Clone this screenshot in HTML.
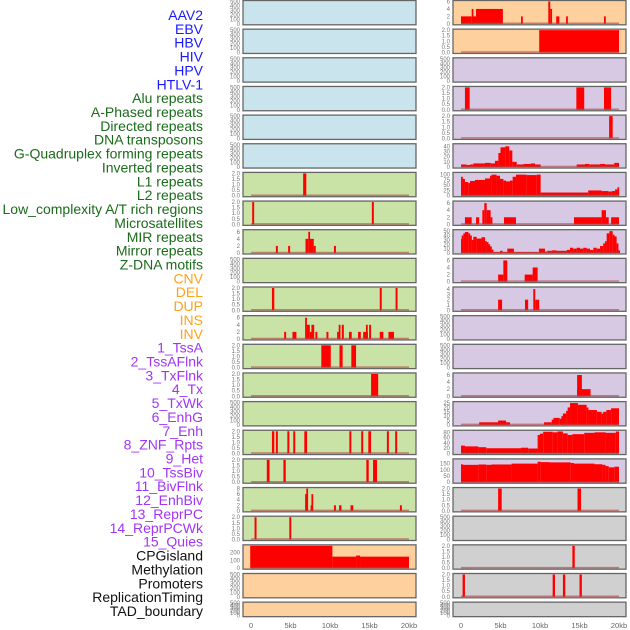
<!DOCTYPE html>
<html><head><meta charset="utf-8">
<style>
html,body{margin:0;padding:0;background:#fff;}
svg{display:block;font-family:"Liberation Sans",sans-serif;}
</style></head>
<body>
<svg id="chart" width="630" height="630" viewBox="0 0 630 630" xmlns="http://www.w3.org/2000/svg"></svg>
<script>
// ---- category labels ----
const labels = ["AAV2","EBV","HBV","HIV","HPV","HTLV-1","Alu repeats","A-Phased repeats","Directed repeats","DNA transposons","G-Quadruplex forming repeats","Inverted repeats","L1 repeats","L2 repeats","Low_complexity A/T rich regions","Microsatellites","MIR repeats","Mirror repeats","Z-DNA motifs","CNV","DEL","DUP","INS","INV","1_TssA","2_TssAFlnk","3_TxFlnk","4_Tx","5_TxWk","6_EnhG","7_Enh","8_ZNF_Rpts","9_Het","10_TssBiv","11_BivFlnk","12_EnhBiv","13_ReprPC","14_ReprPCWk","15_Quies","CPGisland","Methylation","Promoters","ReplicationTiming","TAD_boundary"];
const labelGroups = ["v","v","v","v","v","v","r","r","r","r","r","r","r","r","r","r","r","r","r","o","o","o","o","o","c","c","c","c","c","c","c","c","c","c","c","c","c","c","c","k","k","k","k","k"];
const xTicks = [0,5,10,15,20];
const xTickLabels = ["0","5kb","10kb","15kb","20kb"];

// ---- series: [startKb, endKb, value] ----
const sAlu = [[6.6,7.0,2]];
const sAPhased = [[0.15,0.4,2],[15.3,15.55,2]];
const sDirected = [[3.15,3.4,2],[4.7,4.95,2],[6.9,7.25,4],[7.25,7.45,6],[7.45,7.95,4],[7.95,8.2,2],[10.5,10.75,2]];
const sGQuad = [[2.65,2.95,2],[16.3,16.55,2],[18.3,18.55,2]];
const sInverted = [[4.2,4.45,2],[5.25,5.75,2],[6.85,7.05,6],[7.05,7.45,4],[7.45,7.65,2],[7.65,8.0,4],[8.15,8.4,2],[9.55,9.8,2],[10.9,11.1,2],[11.1,11.25,4],[11.5,11.75,4],[12.4,12.75,2],[13.55,13.9,2],[14.2,14.8,2],[14.55,14.75,4],[14.95,15.2,4],[16.3,16.75,2],[17.4,18.1,2]];
const sL1 = [[8.9,10.1,2],[11.2,11.6,2],[12.7,13.3,2]];
const sL2 = [[15.2,16.1,2]];
const sMicro = [[2.65,2.95,2],[3.15,3.4,2],[4.6,4.85,2],[5.35,5.6,2],[6.75,7.1,2],[12.45,12.7,2],[13.95,14.2,2],[14.85,15.2,2],[17.2,17.45,2],[18.25,18.5,2]];
const sMIR = [[2.0,2.35,2],[4.1,4.4,2],[14.6,14.9,2],[15.45,15.95,2]];
const sMirror = [[6.85,7.15,6],[7.0,7.2,8],[7.55,7.85,2],[7.65,7.85,6],[10.5,10.75,2],[11.15,11.45,2],[12.6,12.95,2],[18.85,19.1,2]];
const sZDNA = [[0.45,0.7,2],[4.85,5.1,2]];
const sCNV = [[-0.1,10.3,300],[10.3,13.3,146],[13.3,13.8,160],[13.8,20.0,146]];
const sINS = [[0,1.35,2],[1.35,1.5,4],[1.5,1.9,2],[1.9,5.3,4],[7.6,7.8,2],[11.05,11.3,6],[11.3,11.5,4],[12.05,12.45,2],[13.3,13.5,2],[18.1,18.3,2]];
const sINV = [[9.9,20.0,2]];
const sTssAFlnk = [[0.5,1.1,2],[14.6,15.6,2],[18.1,19.0,2]];
const sTxFlnk = [[18.75,19.2,2]];
const sTx = [[0,0.72,5],[0.72,1.14,4],[1.14,1.56,5],[1.56,3.04,7],[3.04,3.76,8],[3.76,4.3,7],[4.3,4.73,12],[4.73,5.0,27],[5.0,5.6,38],[5.6,6.1,40],[6.1,6.5,32],[6.5,7.05,10],[7.05,7.9,5],[7.9,8.86,6],[8.86,9.37,7],[9.37,10.08,5],[14.64,15.7,5],[15.7,16.24,6],[16.24,17.6,5],[17.6,18.23,6],[18.23,19.4,5],[19.4,20.0,8]];
const sTxWk = [[0,0.2,90],[0.2,0.5,80],[0.5,0.93,65],[0.93,1.14,60],[1.14,1.77,70],[1.77,3.04,75],[3.04,3.67,82],[3.67,3.88,95],[3.88,4.5,100],[4.5,4.94,95],[4.94,5.36,80],[5.36,5.7,72],[5.7,6.2,68],[6.2,6.54,72],[6.54,6.96,90],[6.96,8.31,100],[8.31,9.58,98],[9.58,10.08,100],[10.08,16.1,15],[16.1,17.8,25],[17.8,18.65,22],[18.65,19.07,20],[19.07,19.5,22],[19.5,19.8,30],[19.8,20.0,40]];
const sEnhG = [[0.5,1.35,2],[1.9,2.3,2],[2.7,2.95,4],[2.95,3.25,6],[3.25,3.75,4],[3.75,3.95,2],[5.44,6.96,2],[14.3,17.8,2],[17.8,18.35,4],[18.35,18.7,2],[19.0,20.0,2]];
const sEnh = [[0,0.08,32],[0.08,0.3,40],[0.3,0.5,45],[0.5,0.93,48],[0.93,1.14,45],[1.14,1.35,40],[1.35,1.56,30],[1.56,1.98,37],[1.98,2.6,33],[2.6,3.04,36],[3.04,3.25,27],[3.25,3.46,25],[3.46,3.67,20],[3.67,3.88,15],[3.88,4.1,8],[4.1,4.94,2],[4.94,5.27,5],[5.27,5.86,2],[5.86,6.7,10],[6.7,9.87,2],[9.87,10.63,10],[10.63,10.93,3],[10.93,11.48,5],[11.48,12.1,6],[12.1,13.38,5],[13.38,13.8,7],[13.8,14.2,12],[14.2,14.64,10],[14.64,15.06,12],[15.06,15.49,10],[15.49,15.9,12],[15.9,16.33,10],[16.33,16.75,7],[16.75,17.17,12],[17.17,17.6,10],[17.6,18.0,16],[18.0,18.23,22],[18.23,18.44,27],[18.44,18.78,45],[18.78,19.2,50],[19.2,19.37,42],[19.37,19.7,38],[19.7,19.9,22],[19.9,20.05,6]];
const sZNF = [[4.7,5.36,2],[5.36,5.86,6],[8.06,9.07,2],[9.07,9.7,4]];
const sHet = [[4.7,5.2,2],[8.1,8.5,2],[9.15,9.4,4],[9.4,9.9,2]];
const sEnhBiv = [[14.7,16.4,2],[14.7,15.3,6]];
const sReprPC = [[2.3,6.2,3],[4.7,5.7,5],[10.5,11.48,3],[11.48,11.7,6],[11.7,12.5,8],[12.5,12.7,7],[12.7,12.9,10],[12.9,13.3,13],[13.3,13.5,16],[13.5,13.8,20],[13.8,14.8,25],[14.8,15.9,23],[15.9,16.1,20],[16.1,17.2,17],[17.2,17.8,15],[17.8,18.0,13],[18.0,18.4,15],[18.4,19.0,17],[19.0,20.0,19]];
const sReprPCWk = [[0,0.5,30],[0.5,2.2,27],[2.2,3.2,24],[3.2,7.6,20],[7.6,8.5,22],[8.5,9.7,19],[9.7,10.0,70],[10.0,10.4,75],[10.4,11.6,82],[11.6,12.2,80],[12.2,12.9,83],[12.9,13.5,76],[13.5,14.1,70],[14.1,15.6,73],[15.6,16.9,78],[16.9,18.3,80],[18.3,19.6,78],[19.6,20.0,83]];
const sQuies = [[0,0.1,145],[0.1,2.2,140],[2.2,3.2,143],[3.2,3.86,140],[3.86,6.4,143],[6.4,9.7,150],[9.7,10.1,165],[10.1,11.2,162],[11.2,13.9,160],[13.9,14.3,155],[14.3,16.9,150],[16.9,17.9,145],[17.9,18.3,140],[18.3,18.7,130],[18.7,19.4,120],[19.4,20.0,125]];
const sCPG = [[4.7,5.15,2],[14.75,15.2,2]];
const sProm = [[14.1,14.4,2]];
const sRepT = [[0.2,0.5,2],[11.6,11.9,2],[12.9,13.2,2],[15.0,15.3,2]];

const tEmpty = [0,100,200,300,400,500];
const t2 = [0,0.5,1,1.5,2];
const t6 = [0,2,4,6];
const t8 = [0,2,4,6,8];
// panels: [name, col, row, bg, ymax, ticks, tickLabels, series]
const f1 = v=>v.toFixed(1);
const panels = [
 ["AAV2",0,0,"b",500,tEmpty,null,null],["EBV",0,1,"b",500,tEmpty,null,null],["HBV",0,2,"b",500,tEmpty,null,null],
 ["HIV",0,3,"b",500,tEmpty,null,null],["HPV",0,4,"b",500,tEmpty,null,null],["HTLV-1",0,5,"b",500,tEmpty,null,null],
 ["Alu",0,6,"g",2,t2,f1,sAlu],["A-Phased",0,7,"g",2,t2,f1,sAPhased],["Directed",0,8,"g",6.3,t6,null,sDirected],
 ["DNA-transposons",0,9,"g",500,tEmpty,null,null],["G-Quadruplex",0,10,"g",2,t2,f1,sGQuad],["Inverted",0,11,"g",6.3,t6,null,sInverted],
 ["L1",0,12,"g",2,t2,f1,sL1],["L2",0,13,"g",2,t2,f1,sL2],["Low-complexity",0,14,"g",500,tEmpty,null,null],
 ["Microsatellites",0,15,"g",2,t2,f1,sMicro],["MIR",0,16,"g",2,t2,f1,sMIR],["Mirror",0,17,"g",8,t8,null,sMirror],
 ["Z-DNA",0,18,"g",2,t2,f1,sZDNA],["CNV",0,19,"o",283,[0,100,200],null,sCNV],["DEL",0,20,"o",500,tEmpty,null,null],["DUP",0,21,"o",500,tEmpty,null,null],
 ["INS",1,0,"o",6,t6,null,sINS],["INV",1,1,"o",2,t2,f1,sINV],["1-TssA",1,2,"p",500,tEmpty,null,null],
 ["2-TssAFlnk",1,3,"p",2,t2,f1,sTssAFlnk],["3-TxFlnk",1,4,"p",2,t2,f1,sTxFlnk],["4-Tx",1,5,"p",43,[0,10,20,30,40],null,sTx],
 ["5-TxWk",1,6,"p",106,[0,25,50,75,100],null,sTxWk],["6-EnhG",1,7,"p",6.3,t6,null,sEnhG],["7-Enh",1,8,"p",51,[0,10,20,30,40,50],null,sEnh],
 ["8-ZNF-Rpts",1,9,"p",6.3,t6,null,sZNF],["9-Het",1,10,"p",4.2,[0,1,2,3,4],null,sHet],["10-TssBiv",1,11,"p",500,tEmpty,null,null],
 ["11-BivFlnk",1,12,"p",500,tEmpty,null,null],["12-EnhBiv",1,13,"p",6.3,t6,null,sEnhBiv],["13-ReprPC",1,14,"p",25.5,[0,5,10,15,20,25],null,sReprPC],
 ["14-ReprPCWk",1,15,"p",84,[0,20,40,60,80],null,sReprPCWk],["15-Quies",1,16,"p",180,[0,50,100,150],null,sQuies],
 ["CPGisland",1,17,"k",2,t2,f1,sCPG],["Methylation",1,18,"k",500,tEmpty,null,null],["Promoters",1,19,"k",2,t2,f1,sProm],
 ["ReplicationTiming",1,20,"k",2,t2,f1,sRepT],["TAD-boundary",1,21,"k",500,tEmpty,null,null]
];

const NS="http://www.w3.org/2000/svg";
const svg=document.getElementById('chart');
function mk(tag,attrs,parent){const e=document.createElementNS(NS,tag);for(const k in attrs)e.setAttribute(k,attrs[k]);(parent||svg).appendChild(e);return e;}
const bgColors={b:"#c9e4ec",g:"#c9e2a6",o:"#fed09e",p:"#d7c8e3",k:"#d0d0d0"};
const labelColors={v:"#1a1aff",r:"#1a6b1a",o:"#ffa31a",c:"#a235f5",k:"#111"};
const colX=[[243,416,251,409],[453,626,461,619]];
function xScale(col,kb){const c=colX[col];return c[2]+(c[3]-c[2])*kb/20;}
function rowTop(r){return 0.5+r*28.65;}
function rowH(r){return r===21?14.5:24.3;}

// labels
labels.forEach((t,i)=>{
  const el=mk('text',{x:203,y:15+i*13.86+5,'text-anchor':'end','font-size':14,fill:labelColors[labelGroups[i]]});
  el.textContent=t;
  
  
});

panels.forEach(p=>{
  const [name,col,row,bg,ymax,ticks,fmt,series]=p;
  const g=mk('g',{});
  
  
  const x0=colX[col][0],x1=colX[col][1],top=rowTop(row),h=rowH(row);
  const bot=top+h;
  const yS=v=>bot-1-(h-2)*Math.min(v,ymax)/ymax;
  const r=mk('rect',{x:x0,y:top,width:x1-x0,height:h,fill:bgColors[bg],stroke:"#666",'stroke-width':1.3},g);
  
  
  ticks.forEach(t=>{
    const tl=mk('text',{x:x0-3,y:yS(t)+2,'text-anchor':'end','font-size':6,fill:"#777"},g);
    tl.textContent=fmt?fmt(t):String(t);
    
    
  });
  if(series){
    series.forEach(s=>{
      const xa=xScale(col,s[0]),xb=xScale(col,s[1]);
      const b=mk('rect',{x:xa,y:yS(s[2]),width:Math.max(xb-xa,1.8),height:bot-1-yS(s[2]),fill:"#ff0000"},g);
      
      
    });
    const bl=mk('line',{x1:xScale(col,0),x2:xScale(col,20),y1:bot-1.5,y2:bot-1.5,stroke:"#b04040",'stroke-opacity':0.6,'stroke-width':1.5},g);
    
    
  }
});

// x axes
[0,1].forEach(col=>{
  xTicks.forEach((t,i)=>{
    const tl=mk('text',{x:xScale(col,t),y:628,'text-anchor':'middle','font-size':7.5,fill:"#666"});
    tl.textContent=xTickLabels[i];
    
    
  });
});
</script>
</body></html>
